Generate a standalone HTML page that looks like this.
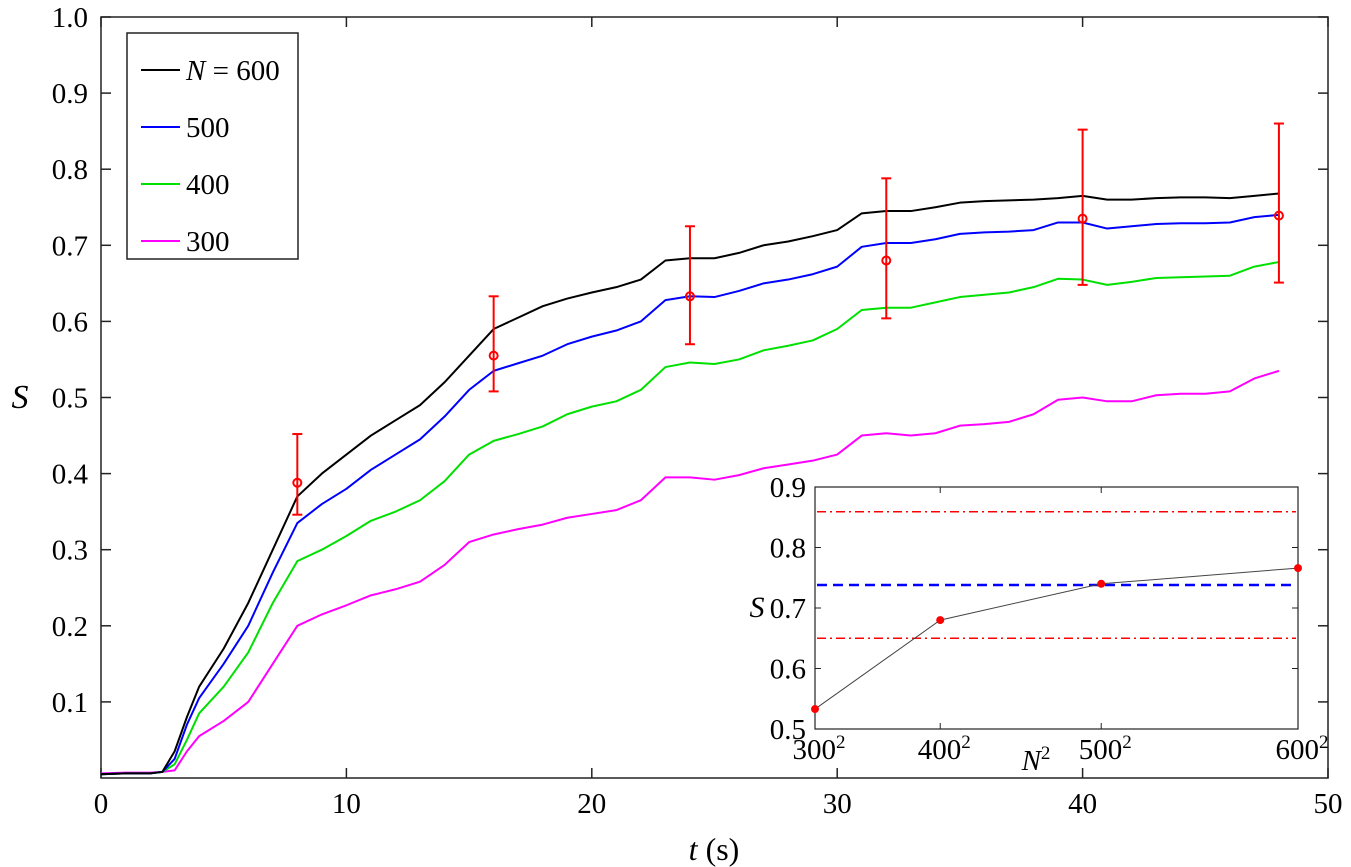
<!DOCTYPE html>
<html><head><meta charset="utf-8"><style>
body{margin:0;background:#fff}
svg{display:block}
text{font-family:"Liberation Serif","DejaVu Serif",serif}
</style></head><body>
<svg id="c" width="1351" height="867" font-family="Liberation Serif, serif"></svg>
<script>
const T=[0,1,2,2.5,3,3.5,4,5,6,7,8,9,10,11,12,13,14,15,16,17,18,19,20,21,22,23,24,25,26,27,28,29,30,31,32,33,34,35,36,37,38,39,40,41,42,43,44,45,46,47,48];
const S600=[0.005,0.006,0.006,0.008,0.035,0.08,0.12,0.17,0.23,0.3,0.37,0.4,0.425,0.45,0.47,0.49,0.52,0.555,0.59,0.605,0.62,0.63,0.638,0.645,0.655,0.68,0.683,0.683,0.69,0.7,0.705,0.712,0.72,0.742,0.745,0.745,0.75,0.756,0.758,0.759,0.76,0.762,0.765,0.76,0.76,0.762,0.763,0.763,0.762,0.765,0.768];
const S500=[0.005,0.006,0.006,0.008,0.025,0.07,0.105,0.15,0.2,0.27,0.335,0.36,0.38,0.405,0.425,0.445,0.475,0.51,0.535,0.545,0.555,0.57,0.58,0.588,0.6,0.628,0.633,0.632,0.64,0.65,0.655,0.662,0.672,0.698,0.703,0.703,0.708,0.715,0.717,0.718,0.72,0.73,0.73,0.722,0.725,0.728,0.729,0.729,0.73,0.737,0.74];
const S400=[0.005,0.006,0.006,0.008,0.018,0.05,0.085,0.12,0.165,0.23,0.285,0.3,0.318,0.338,0.35,0.365,0.39,0.425,0.443,0.452,0.462,0.478,0.488,0.495,0.51,0.54,0.546,0.544,0.55,0.562,0.568,0.575,0.59,0.615,0.618,0.618,0.625,0.632,0.635,0.638,0.645,0.656,0.655,0.648,0.652,0.657,0.658,0.659,0.66,0.672,0.678];
const S300=[0.006,0.007,0.007,0.008,0.01,0.035,0.055,0.075,0.1,0.15,0.2,0.215,0.227,0.24,0.248,0.258,0.28,0.31,0.32,0.327,0.333,0.342,0.347,0.352,0.365,0.395,0.395,0.392,0.398,0.407,0.412,0.417,0.425,0.45,0.453,0.45,0.453,0.463,0.465,0.468,0.478,0.497,0.5,0.495,0.495,0.503,0.505,0.505,0.508,0.525,0.535];
const ET=[8,16,24,32,40,48];
const EM=[0.388,0.555,0.633,0.68,0.735,0.739];
const EU=[0.452,0.633,0.725,0.788,0.852,0.86];
const EL=[0.346,0.508,0.57,0.604,0.648,0.651];
const XT=[0,10,20,30,40,50];
const YT=[0.1,0.2,0.3,0.4,0.5,0.6,0.7,0.8,0.9,1.0];
const IN=[300,400,500,600];
const IS=[0.533,0.68,0.74,0.766];
const IYT=[0.5,0.6,0.7,0.8,0.9];
const IBAND=[0.65,0.859];
const IMEAN=0.738;

const svg=document.getElementById('c');const NS='http://www.w3.org/2000/svg';
function mk(t,a,p){const e=document.createElementNS(NS,t);for(const k in a)e.setAttribute(k,a[k]);(p||svg).appendChild(e);return e;}
const FF='Liberation Serif, serif';
const L=101,R=1328,TOP=17,B=778;
const sx=t=>L+(t/50)*(R-L), sy=v=>B-v*(B-TOP);
let e=mk('rect',{x:L,y:TOP,width:R-L,height:B-TOP,fill:'none',stroke:'#222','stroke-width':1.5});

XT.forEach(v=>{const x=sx(v);
 mk('line',{x1:x,x2:x,y1:B,y2:B-10,stroke:'#222','stroke-width':1.5});
 mk('line',{x1:x,x2:x,y1:TOP,y2:TOP+10,stroke:'#222','stroke-width':1.5});
 e=mk('text',{x:x,y:B+35,'text-anchor':'middle','font-size':29,'font-family':FF});e.textContent=String(v);
 });
YT.forEach(v=>{const y=sy(v);
 mk('line',{x1:L,x2:L+10,y1:y,y2:y,stroke:'#222','stroke-width':1.5});
 mk('line',{x1:R,x2:R-10,y1:y,y2:y,stroke:'#222','stroke-width':1.5});
 e=mk('text',{x:L-13,y:y+10,'text-anchor':'end','font-size':29,'font-family':FF});e.textContent=v.toFixed(1);
 });
e=mk('text',{x:714,y:860,'text-anchor':'middle','font-size':32,'font-family':FF});e.innerHTML='<tspan font-style="italic">t</tspan> (s)';

e=mk('text',{x:20,y:408,'text-anchor':'middle','font-size':34,'font-style':'italic','font-family':FF});e.textContent='S';

const series=[[S600,'#000','n600'],[S500,'#0000ff','n500'],[S400,'#00e000','n400'],[S300,'#ff00ff','n300']];
series.slice().reverse().forEach(s=>{
 e=mk('polyline',{points:T.map((t,i)=>sx(t)+','+sy(s[0][i])).join(' '),fill:'none',stroke:s[1],'stroke-width':2,'stroke-linejoin':'round'});
 });
ET.forEach((t,i)=>{const x=sx(t);
 const g=mk('g',{stroke:'#ff0000','stroke-width':2,fill:'none'});
 
 mk('line',{x1:x,x2:x,y1:sy(EU[i]),y2:sy(EL[i])},g);
 mk('line',{x1:x-5,x2:x+5,y1:sy(EU[i]),y2:sy(EU[i])},g);
 mk('line',{x1:x-5,x2:x+5,y1:sy(EL[i]),y2:sy(EL[i])},g);
 mk('circle',{cx:x,cy:sy(EM[i]),r:4},g);});
const lg=mk('g',{});
mk('rect',{x:127,y:33,width:171,height:226,fill:'#fff',stroke:'#222','stroke-width':1.5},lg);
const labs=['<tspan font-style="italic">N</tspan> = 600','500','400','300'];
series.forEach((s,i)=>{const y=70+i*57;
 const g=mk('g',{},lg);
 mk('line',{x1:141,x2:180,y1:y,y2:y,stroke:s[1],'stroke-width':2},g);
 const t=mk('text',{x:186,y:y+10,'font-size':29,'font-family':FF},g);t.innerHTML=labs[i];});
// inset
const IL=815,IR=1298,IT=487,IB=729;
const ix=n=>IL+(n*n-90000)/270000*(IR-IL), iy=v=>IT+(0.9-v)/0.4*(IB-IT);
const ig=mk('g',{});
mk('rect',{x:IL,y:IT,width:IR-IL,height:IB-IT,fill:'#fff',stroke:'#222','stroke-width':1.2},ig);
IYT.forEach(v=>{const y=iy(v);
 mk('line',{x1:IL,x2:IL+6,y1:y,y2:y,stroke:'#222'},ig);mk('line',{x1:IR,x2:IR-6,y1:y,y2:y,stroke:'#222'},ig);
 const t=mk('text',{x:IL-9,y:y+10,'text-anchor':'end','font-size':29,'font-family':FF},ig);t.textContent=v.toFixed(1);
 });
IN.forEach(n=>{const x=ix(n);
 mk('line',{x1:x,x2:x,y1:IB,y2:IB-6,stroke:'#222'},ig);mk('line',{x1:x,x2:x,y1:IT,y2:IT+6,stroke:'#222'},ig);
 const t=mk('text',{x:x+4,y:IB+30,'text-anchor':'middle','font-size':29,'font-family':FF},ig);t.innerHTML=n+'<tspan dy="-11" font-size="19">2</tspan>';
 });
e=mk('text',{x:1036,y:770,'text-anchor':'middle','font-size':29,'font-family':FF},ig);e.innerHTML='<tspan font-style="italic">N</tspan><tspan dy="-11" font-size="19">2</tspan>';

e=mk('text',{x:757,y:617,'text-anchor':'middle','font-size':30,'font-style':'italic','font-family':FF},ig);e.textContent='S';

IBAND.forEach(v=>{const l=mk('line',{x1:IL+2,x2:IR-2,y1:iy(v),y2:iy(v),stroke:'#ff0000','stroke-width':1.5,'stroke-dasharray':'9,4,2,4'},ig);
 });
e=mk('line',{x1:IL+2,x2:IR-2,y1:iy(IMEAN),y2:iy(IMEAN),stroke:'#0000ff','stroke-width':2.5,'stroke-dasharray':'10,6'},ig);

e=mk('polyline',{points:IN.map((n,i)=>ix(n)+','+iy(IS[i])).join(' '),fill:'none',stroke:'#444','stroke-width':1},ig);

IN.forEach((n,i)=>{const c=mk('circle',{cx:ix(n),cy:iy(IS[i]),r:4,fill:'#ff0000'},ig);
 });
</script>
</body></html>
